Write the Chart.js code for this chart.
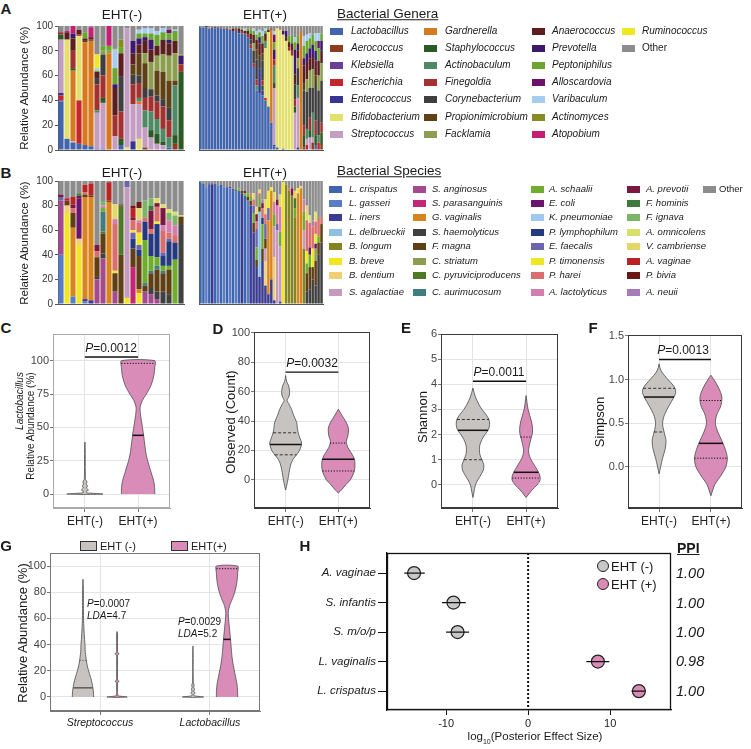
<!DOCTYPE html>
<html>
<head>
<meta charset="utf-8">
<title>EHT vaginal microbiome</title>
<script src="https://cdn.jsdelivr.net/npm/chart.js@4.4.1/dist/chart.umd.min.js"></script>
<style>
  html, body { margin: 0; padding: 0; background: #fff; }
  body { position: relative; width: 751px; height: 749px; overflow: hidden;
         font-family: "Liberation Sans", Arial, Helvetica, sans-serif; color: #1a1a1a; }
  canvas { position: absolute; }
  .t { position: absolute; white-space: nowrap; line-height: 1; }
  .sw { position: absolute; }
</style>
</head>
<body>
<script>
// ---------- data: panel A (genera) ----------
const genusNames = ['Lactobacillus','Aerococcus','Klebsiella','Escherichia','Enterococcus','Bifidobacterium','Streptococcus',
  'Gardnerella','Staphylococcus','Actinobaculum','Finegoldia','Corynebacterium','Propionimicrobium','Facklamia',
  'Anaerococcus','Prevotella','Peptoniphilus','Alloscardovia','Varibaculum','Actinomyces','Atopobium',
  'Ruminococcus','Other'];
const genusCodes = ['Lac','Aer','Kle','Esc','Ent','Bif','Str','Gar','Sta','Acb','Fin','Cor','Pro','Fac',
  'Ana','Pre','Pep','All','Var','Acm','Ato','Rum','Oth'];
const genusColors = ['#4264ab','#8e3b1f','#6b3f98','#c3272b','#363592','#e3e06e','#c49dc3',
  '#d7791f','#2c5a24','#4f8a66','#a3312f','#3f3f3f','#5e4216','#8d9e50',
  '#5b1f20','#3c186f','#6ba631','#6c126d','#a6cdf0','#878b25','#c41f75',
  '#efe624','#8c8c8c'];

const genusEhtNeg = [
  {Lac:39,Kle:1,Esc:4,Ent:2,Str:43,Sta:4,Fin:2,Oth:5},
  {Lac:9,Bif:80,Ana:6,Ato:1,Oth:4},
  {Lac:6,Str:1,Gar:57,Sta:2,Fin:14,Ana:10,Pre:4,Ato:6},
  {Lac:5,Esc:35,Bif:52,Fin:1,Ana:4,Oth:3},
  {Lac:4,Gar:83,Pro:1,Ana:2,Pep:5,Oth:5},
  {Lac:3,Gar:85,Pro:1,Ana:2,Ato:8,Oth:1},
  {Lac:1,Str:29,Acb:2,Fin:21,Cor:5,Ana:5,Pep:1,Var:2,Rum:11,Oth:23},
  {Lac:1,Str:37,Sta:4,Fin:18,Cor:17,Fac:3,Pep:4,Oth:16},
  {Gar:78,Fac:2,Pep:4,Ato:16},
  {Str:11,Fin:17,Ana:22,Pre:3,Pep:13,Var:15,Acm:1,Oth:18},
  {Lac:4,Sta:5,Fin:22,Cor:28,Ana:19,Pep:5,Acm:6,Oth:11},
  {Bif:2,Str:96,Oth:2},
  {Ent:7,Str:30,Fin:16,Cor:8,Pro:8,Ana:9,Pre:10,Oth:12},
  {Bif:9,Str:28,Gar:2,Acb:3,Fin:12,Cor:6,Pro:18,Ana:7,Pre:5,Pep:4,Var:3,Oth:3},
  {Aer:2,Str:16,Acb:14,Fin:10,Cor:8,Pro:20,Fac:8,Ana:10,Pre:3,Pep:3,Var:4,Oth:2},
  {Str:10,Sta:6,Acb:15,Fin:12,Cor:6,Fac:22,Ana:10,Pre:8,Pep:5,Var:4,Oth:2},
  {Str:5,Sta:8,Acb:12,Fin:14,Cor:5,Pro:20,Fac:12,Ana:8,Pep:9,Var:3,Oth:4},
  {Str:4,Sta:3,Acb:10,Fin:18,Cor:6,Pro:22,Fac:14,Ana:12,Pep:6,Var:3,Oth:2},
  {Lac:2,Acb:8,Fin:14,Cor:10,Pro:22,Fac:20,Ana:10,Pre:3,Pep:5,All:3,Oth:3},
  {Aer:5,Sta:7,Acb:40,Pro:4,Fac:22,Ana:10,Pep:8,Var:1,Oth:3},
  {Sta:63,Fin:6,Pre:7,Acm:1,Oth:23}
];
const genusEhtPos = [
  {Lac:99,Oth:1},{Lac:99,Oth:1},{Lac:99,Ana:1},{Lac:98,Gar:1,Oth:1},{Lac:99,Oth:1},
  {Lac:98,Ana:1,Oth:1},{Lac:99,Oth:1},{Lac:98,Fin:1,Oth:1},{Lac:98,Oth:2},{Lac:97,Ana:1,Oth:2},
  {Lac:97,Gar:1,Oth:2},{Lac:96,Ana:2,Oth:2},{Lac:96,Fin:1,Ana:1,Oth:2},{Lac:94,Cor:2,Ana:2,Oth:2},
  {Lac:94,Fin:2,Ana:1,Pep:1,Oth:2},{Lac:93,Cor:1,Ana:2,Var:2,Oth:2},{Lac:91,Fin:2,Ana:3,Pep:2,Oth:2},
  {Lac:82,Fin:3,Cor:4,Ana:5,Pep:3,Oth:3},
  {Lac:67,Fin:3,Cor:10,Fac:6,Ana:7,Pep:3,Var:2,Oth:2},
  {Lac:48,Acb:4,Fin:5,Cor:16,Pro:8,Ana:8,Pep:4,Var:3,Oth:4},
  {Lac:46,Ent:20,Cor:10,Ana:10,Pre:5,Pep:4,Var:2,Oth:3},
  {Lac:44,Ent:4,Sta:4,Fin:4,Cor:16,Pro:6,Ana:8,Pep:6,Var:4,Oth:4},
  {Lac:40,Esc:2,Bif:40,Acb:6,Ana:6,Pep:2,Var:2,Oth:2},
  {Lac:35,Bif:60,Ana:2,Oth:3},
  {Lac:22,Gar:75,Ana:1,Oth:2},
  {Lac:3,Ent:1,Str:46,Sta:4,Acb:14,Fin:5,Pre:8,Pep:6,All:6,Var:3,Oth:4},
  {Lac:2,Bif:96,Oth:2},{Bif:97,Ato:1,Oth:2},{Ent:1,Bif:92,Pre:3,Oth:4},{Bif:88,Ana:3,Pre:5,Oth:4},
  {Bif:80,Fin:3,Ana:4,Pep:5,Oth:8},{Bif:76,Fin:4,Ana:6,Pep:6,Oth:8},
  {Str:30,Sta:5,Fin:6,Cor:12,Ana:8,Pre:20,Pep:6,Var:4,Oth:9},
  {Ent:2,Str:40,Acb:10,Cor:14,Fac:8,Ana:6,Pre:6,Pep:6,Oth:8},
  {Gar:96,Oth:4},
  {Aer:2,Sta:10,Fin:8,Cor:28,Pro:6,Ana:14,Pre:6,Pep:10,Var:8,Oth:8},
  {Esc:4,Str:5,Acb:8,Cor:30,Fac:10,Ana:14,Pre:7,Pep:10,Var:5,Oth:7},
  {Str:10,Sta:6,Fin:10,Cor:24,Fac:14,Ana:10,Pre:8,Pep:8,Var:4,Oth:6},
  {Aer:6,Str:4,Acb:20,Cor:20,Fac:15,Ana:10,Pre:10,Pep:8,Oth:7},
  {Lac:4,Sta:8,Fin:12,Cor:30,Pro:6,Ana:12,Pre:8,Pep:8,Var:6,Oth:6},
  {Esc:6,Acb:6,Cor:36,Fac:12,Ana:12,Pep:10,All:6,Var:6,Oth:6},
  {Aer:4,Sta:10,Fin:8,Cor:34,Fac:14,Ana:10,Pre:8,Pep:6,Oth:6}
];

// ---------- data: panel B (species) ----------
const speciesNames = ['L. crispatus','L. gasseri','L. iners','L. delbrueckii','B. longum','B. breve','B. dentium','S. agalactiae',
  'S. anginosus','S. parasanguinis','G. vaginalis','S. haemolyticus','F. magna','C. striatum','C. pyruviciproducens','C. aurimucosum',
  'A. schaalii','E. coli','K. pneumoniae','P. lymphophilum','E. faecalis','P. timonensis','P. harei','A. lactolyticus',
  'A. prevotii','F. hominis','F. ignava','A. omnicolens','V. cambriense','A. vaginae','P. bivia','A. neuii','Other'];
const speciesCodes = ['Lcr','Lga','Lin','Lde','Blo','Bbr','Bde','Sag','San','Spa','Gva','Sha','Fma','Cst','Cpy','Cau',
  'Asc','Eco','Kpn','Ply','Efa','Pti','Pha','Ala','Apr','Fho','Fig','Aom','Vca','Ava','Pbi','Ane','Oth'];
const speciesColors = ['#4065ad','#5a7cc6','#3b3b91','#8ec1e0','#838423','#f1e623','#f0cf77','#c59bbd',
  '#a44b8f','#c42678','#d9841f','#404040','#5f4015','#8b9d51','#4e7a27','#3f7e80',
  '#70ad2f','#6a1470','#a1c9ef','#253a7e','#6d64ae','#eee723','#d86e6e','#d27fb0',
  '#7a1840','#3e7b3a','#7eb468','#d9df6b','#e2d768','#b82424','#6e1717','#a77ab8','#8c8c8c'];

const speciesEhtNeg = [
  {Lga:40,San:44,Efa:3,Apr:2,Oth:11},
  {Bbr:74,Bde:6,Fma:3,Apr:1,Ava:2,Oth:14},
  {Lga:6,Gva:56,Fma:12,Pha:4,Apr:3,Ava:6,Oth:13},
  {Bbr:48,Bde:5,Eco:33,Apr:2,Fho:2,Oth:10},
  {Lga:2,Lin:2,Gva:83,Fma:2,Pha:2,Ava:6,Oth:3},
  {Lin:3,Gva:84,Fma:1,Ava:10,Oth:2},
  {San:20,Sha:2,Fma:16,Pha:5,Apr:5,Oth:52},
  {San:37,Sha:4,Fma:16,Cpy:2,Cau:16,Asc:3,Ala:2,Fig:3,Oth:17},
  {Gva:83,Fma:1,Ava:15,Oth:1},
  {San:10,Fma:15,Pti:2,Pha:38,Ala:4,Vca:12,Oth:19},
  {Fma:40,Cpy:40,Apr:1,Oth:19},
  {Bbr:5,Sag:90,Efa:5},
  {Spa:30,Fma:15,Ply:8,Efa:5,Pti:2,Pha:8,Apr:2,Ava:8,Pbi:2,Oth:20},
  {Bbr:9,Gva:3,Fma:27,Ply:5,Efa:4,Pti:10,Pha:8,Ala:2,Vca:10,Pbi:5,Oth:17},
  {San:10,Fma:5,Cau:2,Asc:35,Ply:15,Pha:3,Fig:14,Oth:16},
  {San:8,Sha:5,Fma:12,Cau:2,Asc:12,Ply:18,Pha:4,Apr:15,Fho:4,Fig:6,Oth:14},
  {San:4,Sha:6,Fma:18,Cau:3,Asc:7,Ply:27,Pti:2,Pha:12,Apr:3,Vca:4,Oth:14},
  {Sha:10,Fma:15,Cau:2,Asc:4,Ply:8,Efa:3,Pha:18,Ala:4,Apr:14,Aom:3,Oth:19},
  {Sha:8,Fma:20,Asc:3,Ply:20,Efa:2,Pha:5,Ala:10,Fig:6,Aom:3,Oth:23},
  {Asc:36,Ply:14,Pha:6,Ala:8,Fig:8,Aom:3,Oth:25},
  {Sha:65,Fma:6,Vca:1,Oth:28}
];
const speciesEhtPos = [
  {Lcr:99,Oth:1},{Lcr:98,Oth:2},{Lga:95,Oth:5},{Lcr:97,Lin:1,Oth:2},{Lin:97,Apr:1,Oth:2},
  {Lcr:98,Oth:2},{Lga:96,Oth:4},{Lcr:96,Lin:1,Oth:3},{Lga:95,Oth:5},{Lcr:95,Oth:5},
  {Lga:94,Apr:1,Oth:5},{Lcr:94,Oth:6},{Lga:92,Fma:1,Oth:7},{Lcr:92,Asc:2,Oth:6},{Lin:90,Fma:2,Oth:8},
  {Lcr:88,Asc:2,Apr:2,Oth:8},{Lga:84,Fma:3,Asc:3,Oth:10},{Lin:80,Fma:4,Asc:4,Pha:2,Oth:10},
  {Lin:58,Efa:6,Fma:8,Asc:8,Pha:5,Vca:5,Oth:10},
  {Lin:30,Efa:15,Fma:6,Asc:10,Pha:6,Apr:6,Vca:6,Oth:21},
  {Lin:22,Lde:53,Fma:4,Asc:8,Pha:3,Vca:3,Oth:7},
  {Lin:35,Fma:10,Asc:20,Ply:5,Pha:8,Apr:4,Ane:3,Oth:15},
  {Lin:15,Bde:20,Sag:10,Fma:8,Efa:12,Pha:8,Vca:12,Oth:15},
  {Lin:8,Gva:60,Efa:10,Pti:14,Oth:8},
  {Lin:20,Gva:72,Pti:3,Oth:5},
  {Lin:3,Bde:35,Sag:25,Asc:10,Ala:10,Vca:8,Oth:9},
  {Sag:60,Efa:5,Ala:15,Apr:5,Oth:15},
  {Lin:2,Sag:45,Asc:12,Ala:20,Vca:10,Oth:11},
  {Bbr:99,Oth:1},{Blo:97,Oth:3},{Blo:92,Pha:2,Oth:6},{Blo:88,Apr:6,Oth:6},
  {Blo:70,Asc:8,Fho:8,Vca:6,Oth:8},
  {Gva:90,Pti:4,Oth:6},{Gva:94,Vca:2,Oth:4},
  {Blo:45,Sag:15,Asc:15,Ala:10,Oth:15},
  {Sha:10,Fma:15,Asc:8,Pti:10,Pha:25,Vca:12,Oth:20},
  {Sha:12,Fma:18,Asc:10,Eco:6,Pha:20,Aom:6,Oth:28},
  {Sha:20,Fma:10,Pti:15,Pha:18,Ane:5,Oth:32},
  {Sha:15,Fma:20,Cst:10,Eco:4,Pti:8,Pha:10,Aom:8,Oth:25},
  {Sha:40,Fma:10,Asc:5,Pha:15,Oth:30},
  {Sha:50,Fma:15,Pha:5,Oth:30}
];
const pctTicks = [0, 20, 40, 60, 80, 100];

// ---------- data: violin profiles (value levels, relative density) ----------
const groupLabels = ['EHT(-)', 'EHT(+)'];
const lactoNegY = [-0.4, 0, 0.8, 2, 3, 4.5, 6, 7.5, 9, 11, 20, 30, 39];
const lactoNegW = [0, 1, .12, .08, .2, .08, .15, .07, .12, .03, .02, .02, 0];
const lactoPosY = [0, 5, 10, 15, 20, 25, 30, 35, 40, 45, 50, 55, 60, 65, 70, 75, 80, 85, 90, 95, 100];
const lactoPosW = [1, .99, .93, .81, .69, .57, .48, .42, .37, .32, .26, .2, .14, .12, .25, .5, .72, .87, .96, 1, 1];
const lactoStats = { negMedian: 0, posMedian: 44, posQ3: 98, p: 'P=0.0012' };
const lactoTicks = [0, 25, 50, 75, 100];

const obsNegY = [-7, -2, 3, 7, 11, 14, 18, 21, 25, 28, 32, 36, 39, 44, 48, 52, 54, 57, 60, 64, 67, 71];
const obsNegW = [0, .1, .18, .24, .33, .45, .73, .88, .97, .88, .76, .7, .67, .48, .36, .18, .09, .21, .24, .18, .06, 0];
const obsPosY = [-9, -7, -3, 0, 5, 8, 12, 14, 17, 22, 26, 30, 35, 39, 44, 48];
const obsPosW = [0, .18, .48, .73, .94, 1, 1, .97, .85, .58, .48, .58, .61, .48, .21, 0];
const obsQuart = { neg: [17, 24, 32], pos: [6, 14, 25] };
const obsTicks = [0, 20, 40, 60, 80, 100];

const shanNegY = [-0.5, -0.3, 0, 0.2, 0.4, 0.6, 0.8, 1.0, 1.2, 1.4, 1.6, 1.8, 2.0, 2.2, 2.4, 2.6, 2.8, 3.0, 3.2, 3.5, 3.85];
const shanNegW = [0, .06, .15, .3, .48, .63, .65, .54, .42, .39, .42, .54, .72, .93, 1, .96, .78, .54, .36, .15, 0];
const shanPosY = [-0.5, -0.4, -0.2, 0, 0.2, 0.4, 0.6, 0.8, 1.0, 1.2, 1.4, 1.7, 2.0, 2.2, 2.5, 3.0, 3.55];
const shanPosW = [0, .12, .36, .66, .84, .81, .66, .48, .3, .18, .15, .24, .36, .39, .33, .12, 0];
const shanQuart = { neg: [1.0, 2.17, 2.6], pos: [0.27, 0.5, 1.9] };
const shanTicks = [0, 1, 2, 3, 4, 5, 6];

const simpNegY = [-0.08, 0, 0.1, 0.2, 0.3, 0.4, 0.5, 0.6, 0.7, 0.8, 0.85, 0.9, 0.95, 1.0, 1.1, 1.18];
const simpNegW = [0, .09, .21, .36, .42, .3, .21, .33, .6, .9, 1, .96, .78, .54, .12, 0];
const simpPosY = [-0.33, -0.2, -0.1, 0, 0.1, 0.2, 0.3, 0.4, 0.5, 0.6, 0.7, 0.8, 0.9, 1.0, 1.05];
const simpPosW = [0, .24, .6, .9, .99, .87, .66, .42, .27, .36, .6, .66, .48, .18, 0];
const simpQuart = { neg: [0.40, 0.80, 0.90], pos: [0.10, 0.27, 0.76] };
const simpTicks = [0, 0.5, 1.0, 1.5];

const strepNegY = [0, 4, 9, 14, 19, 25, 30, 35, 40, 45, 52, 60, 70, 80, 90];
const strepNegW = [1, .98, .89, .75, .56, .37, .28, .21, .19, .14, .09, .05, .04, .04, 0];
const strepPosY = [-0.4, 0, 0.8, 3, 11, 12, 13, 32, 33, 34, 49, 50];
const strepPosW = [0, .95, .08, .04, .04, .2, .04, .04, .2, .04, .04, 0];
const strepStats = { negMedian: 7, negQ3: 28 };
const taxaG = ['Streptococcus', 'Lactobacillus'];

// ---------- data: panel H ----------
const hTaxa = ['A. vaginae', 'S. infantis', 'S. m/o/p', 'L. vaginalis', 'L. crispatus'];
const hEffect = [-13.9, -9.1, -8.6, 8.5, 13.5];
const hLow = [-15.1, -10.5, -10.0, 7.1, 12.6];
const hHigh = [-12.6, -7.6, -7.2, 9.9, 14.3];
const hGroup = ['-', '-', '-', '+', '+'];
const hPPI = ['1.00', '1.00', '1.00', '0.98', '1.00'];
const hTicks = [-10, 0, 10];

// ---------- helpers ----------
const FONT = '"Liberation Sans", Arial, Helvetica, sans-serif';
const GRAY = '#c7c3c1', PINK = '#d98cb8';

function text(html, x, y, size, opt) {
  opt = opt || {};
  const d = document.createElement('div');
  d.className = 't';
  d.innerHTML = html;
  d.style.left = x + 'px';
  d.style.top = y + 'px';
  d.style.fontSize = size + 'px';
  const ax = opt.align === 'left' ? '0' : (opt.align === 'right' ? '-100%' : '-50%');
  d.style.transform = 'translate(' + ax + ',-50%)' + (opt.rotate ? ' rotate(-90deg)' : '');
  if (opt.css) d.style.cssText += opt.css;
  document.body.appendChild(d);
  return d;
}
function box(x, y, w, h, color, border) {
  const d = document.createElement('div');
  d.className = 'sw';
  d.style.cssText += 'left:' + x + 'px;top:' + y + 'px;width:' + w + 'px;height:' + h + 'px;background:' + color +
    ';box-sizing:border-box;' + (border ? 'border:' + border + ';' : '');
  document.body.appendChild(d);
  return d;
}
function makeCanvas(rect, yw, xh, pt, pr) {
  const [x0, y0, x1, y1] = rect;
  const c = document.createElement('canvas');
  const w = Math.round(x1 - x0 + yw + pr), h = Math.round(y1 - y0 + pt + xh);
  c.width = w; c.height = h;
  c.style.left = (x0 - yw) + 'px';
  c.style.top = (y0 - pt) + 'px';
  c.style.width = w + 'px';
  c.style.height = h + 'px';
  document.body.appendChild(c);
  return c;
}
const framePlugin = {
  id: 'frame',
  afterDatasetsDraw(chart, args, o) {
    if (!o || !o.color) return;
    const { ctx, chartArea: a } = chart;
    ctx.save();
    ctx.strokeStyle = o.color;
    ctx.lineWidth = o.width || 1;
    ctx.strokeRect(Math.round(a.left) + 0.5, Math.round(a.top) + 0.5,
      Math.round(a.right - a.left) - 1, Math.round(a.bottom - a.top) - 1);
    ctx.restore();
  }
};
const baseOpts = { responsive: false, animation: false, devicePixelRatio: 1, events: [] };

// ---------- stacked bar panels ----------
function barChart(rect, samples, codes, colors, showY) {
  const yw = showY ? 40 : 0;
  const cv = makeCanvas(rect, yw, 8, 10, 4);
  new Chart(cv, {
    type: 'bar',
    data: {
      labels: samples.map((_, i) => 'S' + (i + 1)),
      datasets: codes.map((c, i) => ({
        label: c, data: samples.map(s => s[c] || 0), backgroundColor: colors[i],
        borderWidth: 0, barPercentage: 0.86, categoryPercentage: 1
      }))
    },
    options: Object.assign({}, baseOpts, {
      layout: { padding: { top: 10, right: 4, left: 0, bottom: 0 } },
      plugins: { legend: { display: false }, tooltip: { enabled: false } },
      scales: {
        x: { stacked: true, grid: { display: false }, ticks: { display: false },
             border: { color: '#555', width: 1 }, afterFit: s => { s.height = 8; } },
        y: { stacked: true, min: 0, max: 100,
             afterBuildTicks: s => { s.ticks = pctTicks.map(v => ({ value: v })); },
             ticks: { display: showY, font: { family: FONT, size: 10 }, color: '#333', padding: 2 },
             grid: { drawOnChartArea: false, drawTicks: showY, tickLength: 3, color: '#555' },
             border: { color: '#555', width: 1 }, afterFit: s => { s.width = yw; } }
      }
    })
  });
}
barChart([58, 26, 184, 150], genusEhtNeg, genusCodes, genusColors, true);
barChart([199, 26, 323, 150], genusEhtPos, genusCodes, genusColors, false);
barChart([58, 181, 184, 304], speciesEhtNeg, speciesCodes, speciesColors, true);
barChart([199, 181, 323, 304], speciesEhtPos, speciesCodes, speciesColors, false);

// ---------- violin helpers ----------
function outline(center, ys, ws, half) {
  const left = ys.map((y, i) => ({ x: center - ws[i] * half, y }));
  const right = ys.map((y, i) => ({ x: center + ws[i] * half, y })).reverse();
  return left.concat(right);
}
function widthAt(ys, ws, y) {
  for (let i = 1; i < ys.length; i++) {
    if (y <= ys[i]) {
      const t = (y - ys[i - 1]) / (ys[i] - ys[i - 1]);
      return ws[i - 1] + t * (ws[i] - ws[i - 1]);
    }
  }
  return ws[ws.length - 1];
}
function violinSet(center, ys, ws, half, color, tension) {
  return { data: outline(center, ys, ws, half), showLine: true, fill: 'shape', backgroundColor: color,
           borderColor: '#4a4a4a', borderWidth: 0.8, pointRadius: 0, tension: tension, order: 3 };
}
function crossLine(center, ys, ws, half, y, kind, color) {
  const w = widthAt(ys, ws, y) * half;
  const style = kind === 'med' ? { borderWidth: 1.5, borderDash: [] }
              : kind === 'dash' ? { borderWidth: 0.8, borderDash: [3, 2] }
              : { borderWidth: 1, borderDash: [1.2, 1.6] };
  return Object.assign({ data: [{ x: center - w, y }, { x: center + w, y }], showLine: true, fill: false,
           borderColor: color || '#111', pointRadius: 0, order: 1 }, style);
}
function pBar(x1, x2, y) {
  return { data: [{ x: x1, y }, { x: x2, y }], showLine: true, fill: false, borderColor: '#111',
           borderWidth: 1.4, pointRadius: 0, order: 0 };
}
function violinChart(rect, c) {
  const cv = makeCanvas(rect, c.yw, c.xh, 10, 8);
  new Chart(cv, {
    type: 'scatter',
    data: { datasets: c.datasets },
    options: Object.assign({}, baseOpts, {
      layout: { padding: { top: 10, right: 8, left: 0, bottom: 0 } },
      plugins: { legend: { display: false }, tooltip: { enabled: false }, frame: { color: c.frame, width: 1 } },
      scales: {
        x: { type: 'linear', min: c.xmin, max: c.xmax,
             afterBuildTicks: s => { s.ticks = c.xticks.map(v => ({ value: v })); },
             ticks: { callback: (v, i) => c.xlabels[i], autoSkip: false, maxRotation: 0, padding: 2,
                      font: { family: FONT, size: c.xfont || 12, style: c.xstyle || 'normal' }, color: '#222' },
             grid: { color: '#e4e4e4', tickColor: '#777', tickLength: 4 },
             border: { color: c.frame, width: 1 }, afterFit: s => { s.height = c.xh; } },
        y: { type: 'linear', min: c.ymin, max: c.ymax,
             afterBuildTicks: s => { s.ticks = c.yticks.map(v => ({ value: v })); },
             ticks: { callback: c.yfmt || (v => v), padding: 1, font: { family: FONT, size: 11 }, color: '#444' },
             grid: { color: '#e4e4e4', tickColor: '#777', tickLength: 3 },
             border: { color: c.frame, width: 1 }, afterFit: s => { s.width = c.yw; } }
      }
    }),
    plugins: [framePlugin]
  });
}

// C: Lactobacillus relative abundance
const halfC = 0.314;
violinChart([53, 334, 170, 508], {
  yw: 40, xh: 24, frame: '#a9a9a9', xmin: 0.4, xmax: 2.6, xticks: [1, 2], xlabels: groupLabels,
  ymin: -10.5, ymax: 120, yticks: lactoTicks,
  datasets: [
    violinSet(1, lactoNegY, lactoNegW, halfC * 1.08, GRAY, 0.01),
    violinSet(2, lactoPosY, lactoPosW, halfC, PINK, 0.25),
    crossLine(2, lactoPosY, lactoPosW, halfC, lactoStats.posMedian, 'med'),
    crossLine(2, lactoPosY, lactoPosW, halfC, lactoStats.posQ3, 'dot'),
    pBar(1, 2, 102.7)
  ]
});

// D: observed richness
const halfD = 0.313;
violinChart([254, 332, 370, 508], {
  yw: 40, xh: 24, frame: '#3a3a3a', xmin: 0.4, xmax: 2.6, xticks: [1, 2], xlabels: groupLabels,
  ymin: -19.2, ymax: 100.6, yticks: obsTicks,
  datasets: [
    violinSet(1, obsNegY, obsNegW, halfD, GRAY, 0.3),
    violinSet(2, obsPosY, obsPosW, halfD, PINK, 0.3),
    crossLine(1, obsNegY, obsNegW, halfD, obsQuart.neg[0], 'dash'),
    crossLine(1, obsNegY, obsNegW, halfD, obsQuart.neg[1], 'med'),
    crossLine(1, obsNegY, obsNegW, halfD, obsQuart.neg[2], 'dash'),
    crossLine(2, obsPosY, obsPosW, halfD, obsQuart.pos[0], 'dot'),
    crossLine(2, obsPosY, obsPosW, halfD, obsQuart.pos[1], 'med'),
    crossLine(2, obsPosY, obsPosW, halfD, obsQuart.pos[2], 'dot'),
    pBar(1, 2, 73.3)
  ]
});

// E: Shannon
const halfE = 0.314;
violinChart([441, 334, 558, 508], {
  yw: 40, xh: 24, frame: '#3a3a3a', xmin: 0.4, xmax: 2.6, xticks: [1, 2], xlabels: groupLabels,
  ymin: -0.92, ymax: 6, yticks: shanTicks,
  datasets: [
    violinSet(1, shanNegY, shanNegW, halfE, GRAY, 0.3),
    violinSet(2, shanPosY, shanPosW, halfE, PINK, 0.3),
    crossLine(1, shanNegY, shanNegW, halfE, shanQuart.neg[0], 'dash'),
    crossLine(1, shanNegY, shanNegW, halfE, shanQuart.neg[1], 'med'),
    crossLine(1, shanNegY, shanNegW, halfE, shanQuart.neg[2], 'dash'),
    crossLine(2, shanPosY, shanPosW, halfE, shanQuart.pos[0], 'dot'),
    crossLine(2, shanPosY, shanPosW, halfE, shanQuart.pos[1], 'med'),
    crossLine(2, shanPosY, shanPosW, halfE, shanQuart.pos[2], 'dot'),
    pBar(1, 2, 4.12)
  ]
});

// F: Simpson
const halfF = 0.32;
violinChart([628, 335, 742, 508], {
  yw: 40, xh: 24, frame: '#3a3a3a', xmin: 0.4, xmax: 2.6, xticks: [1, 2], xlabels: groupLabels,
  ymin: -0.47, ymax: 1.51, yticks: simpTicks, yfmt: v => v.toFixed(1),
  datasets: [
    violinSet(1, simpNegY, simpNegW, halfF, GRAY, 0.3),
    violinSet(2, simpPosY, simpPosW, halfF, PINK, 0.3),
    crossLine(1, simpNegY, simpNegW, halfF, simpQuart.neg[0], 'dash'),
    crossLine(1, simpNegY, simpNegW, halfF, simpQuart.neg[1], 'med'),
    crossLine(1, simpNegY, simpNegW, halfF, simpQuart.neg[2], 'dash'),
    crossLine(2, simpPosY, simpPosW, halfF, simpQuart.pos[0], 'dot'),
    crossLine(2, simpPosY, simpPosW, halfF, simpQuart.pos[1], 'med'),
    crossLine(2, simpPosY, simpPosW, halfF, simpQuart.pos[2], 'dot'),
    pBar(1, 2, 1.23)
  ]
});

// G: LEfSe taxa
const halfG = 0.097, offG = 0.155;
violinChart([50, 553, 260, 711], {
  yw: 40, xh: 22, frame: '#777', xmin: 0.545, xmax: 2.455, xticks: [1, 2], xlabels: taxaG,
  xfont: 10.5, xstyle: 'italic',
  ymin: -10.7, ymax: 110, yticks: pctTicks,
  datasets: [
    violinSet(1 - offG, strepNegY, strepNegW, halfG, GRAY, 0.25),
    violinSet(1 + offG, strepPosY, strepPosW, halfG, PINK, 0.01),
    violinSet(2 - offG, lactoNegY, lactoNegW, halfG, GRAY, 0.01),
    violinSet(2 + offG, lactoPosY, lactoPosW, halfG, PINK, 0.25),
    crossLine(1 - offG, strepNegY, strepNegW, halfG, strepStats.negMedian, 'med', '#5a5a5a'),
    crossLine(1 - offG, strepNegY, strepNegW, halfG, strepStats.negQ3, 'dot', '#555'),
    crossLine(2 + offG, lactoPosY, lactoPosW, halfG, lactoStats.posMedian, 'med'),
    crossLine(2 + offG, lactoPosY, lactoPosW, halfG, lactoStats.posQ3, 'dot')
  ]
});

// H: posterior effect sizes
(function () {
  const cv = makeCanvas([387, 553, 673, 710], 80, 24, 10, 6);
  const errors = hTaxa.map((t, i) => ({
    data: [{ x: hLow[i], y: i }, { x: hHigh[i], y: i }], showLine: true, fill: false,
    borderColor: '#111', borderWidth: 1.3, pointRadius: 0, order: 0
  }));
  const pts = g => hTaxa.map((t, i) => ({ x: hEffect[i], y: i })).filter((p, i) => hGroup[i] === g);
  new Chart(cv, {
    type: 'scatter',
    data: { datasets: errors.concat([
      { label: 'EHT (-)', data: pts('-'), pointRadius: 6.5, backgroundColor: '#c8c8c8', borderColor: '#222', borderWidth: 1.2, order: 1 },
      { label: 'EHT (+)', data: pts('+'), pointRadius: 6.5, backgroundColor: '#d98bb6', borderColor: '#222', borderWidth: 1.2, order: 1 },
      { data: [{ x: 0, y: -0.68 }, { x: 0, y: 4.64 }], showLine: true, fill: false, borderColor: '#111',
        borderWidth: 2, borderDash: [2, 2], pointRadius: 0, order: 2 }
    ]) },
    options: Object.assign({}, baseOpts, {
      layout: { padding: { top: 10, right: 6, left: 0, bottom: 0 } },
      plugins: { legend: { display: false }, tooltip: { enabled: false }, frame: { color: '#111', width: 1.3 } },
      scales: {
        x: { type: 'linear', min: -17.2, max: 17.45,
             afterBuildTicks: s => { s.ticks = hTicks.map(v => ({ value: v })); },
             ticks: { font: { family: FONT, size: 11 }, color: '#222', padding: 2 },
             grid: { drawOnChartArea: false, tickLength: 5, color: '#111' },
             border: { color: '#111', width: 1.3 }, afterFit: s => { s.height = 24; } },
        y: { type: 'linear', reverse: true, min: -0.68, max: 4.64,
             afterBuildTicks: s => { s.ticks = hTaxa.map((t, i) => ({ value: i })); },
             ticks: { callback: (v, i) => hTaxa[i], font: { family: FONT, size: 11.5, style: 'italic' }, color: '#222', padding: 2 },
             grid: { drawOnChartArea: false, tickLength: 9, color: '#111' },
             border: { color: '#111', width: 1.3 }, afterFit: s => { s.width = 80; } }
      }
    }),
    plugins: [framePlugin]
  });
})();

// ---------- text, legends ----------
const bold = 'font-weight:bold;';
[['A', 6, 8], ['B', 6, 172], ['C', 6, 327], ['D', 218, 328], ['E', 406, 327], ['F', 593, 327], ['G', 6, 545], ['H', 305, 545]]
  .forEach(p => text(p[0], p[1], p[2], 15, { css: bold }));

text('EHT(-)', 122, 15, 13.5); text('EHT(+)', 265, 15, 13.5);
text('EHT(-)', 122, 173, 13.5); text('EHT(+)', 265, 173, 13.5);
text('Relative Abundance (%)', 25, 88, 11.5, { rotate: true });
text('Relative Abundance (%)', 25, 243, 11.5, { rotate: true });

function legend(title, ty, names, colors, colCounts, swX, txX, rowY, size) {
  text(title, 337, ty, 13.5, { align: 'left', css: 'text-decoration:underline;' });
  let k = 0;
  colCounts.forEach((n, j) => {
    for (let r = 0; r < n; r++, k++) {
      box(swX[j], rowY[r] - 3.5, 13, 7, colors[k]);
      text(names[k], txX[j], rowY[r], size,
        { align: 'left', css: names[k] === 'Other' ? '' : 'font-style:italic;' });
    }
  });
}
legend('Bacterial Genera', 14, genusNames, genusColors, [7, 7, 7, 2],
  [330, 424, 532, 622], [351, 445, 552, 642], [31, 48, 65, 82, 99, 117, 134], 10);
legend('Bacterial Species', 171, speciesNames, speciesColors, [8, 8, 8, 8, 1],
  [329, 413, 531, 627, 703], [349, 432, 549, 646, 719], [189, 203, 217, 232, 246, 261, 275, 292], 9.5);

// violin panel titles & annotations
text('<i>Lactobacillus</i>', 20, 401, 10, { rotate: true });
text('Relative Abundance (%)', 31, 426, 10, { rotate: true });
text('Observed (Count)', 230, 422, 13, { rotate: true });
text('Shannon', 422, 417, 13, { rotate: true });
text('Simpson', 599, 422, 13, { rotate: true });
text('<i>P</i>=0.0012', 111, 348, 12);
text('<i>P</i>=0.0032', 312, 363, 12);
text('<i>P</i>=0.0011', 499, 372, 12);
text('<i>P</i>=0.0013', 683, 350, 12);

// G legend & annotations
box(80, 541, 17, 10, GRAY, '1px solid #333');
text('EHT (-)', 100, 546, 11, { align: 'left' });
box(171, 541, 17, 10, PINK, '1px solid #333');
text('EHT(+)', 191, 546, 11, { align: 'left' });
text('Relative Abundance (%)', 22, 633, 13, { rotate: true });
text('<i>P</i>=0.0007', 87, 604, 10, { align: 'left' });
text('<i>LDA</i>=4.7', 87, 616, 10, { align: 'left' });
text('<i>P</i>=0.0029', 178, 622, 10, { align: 'left' });
text('<i>LDA</i>=5.2', 178, 634, 10, { align: 'left' });

// H legend, PPI and axis title
box(597, 560, 12, 12, '#c8c8c8', '1.2px solid #222').style.borderRadius = '50%';
text('EHT (-)', 611, 566, 13, { align: 'left' });
box(597, 578, 12, 12, '#d98bb6', '1.2px solid #222').style.borderRadius = '50%';
text('EHT (+)', 611, 584, 13, { align: 'left' });
text('PPI', 677, 548, 14, { align: 'left', css: bold + 'text-decoration:underline;' });
const hRowY = [573, 603, 632, 661, 691];
hPPI.forEach((v, i) => text(v, 676, hRowY[i], 14.5, { align: 'left', css: 'font-style:italic;' }));
text('log<sub style="font-size:7px">10</sub>(Posterior Effect Size)', 535, 738, 11.5);
</script>
</body>
</html>
